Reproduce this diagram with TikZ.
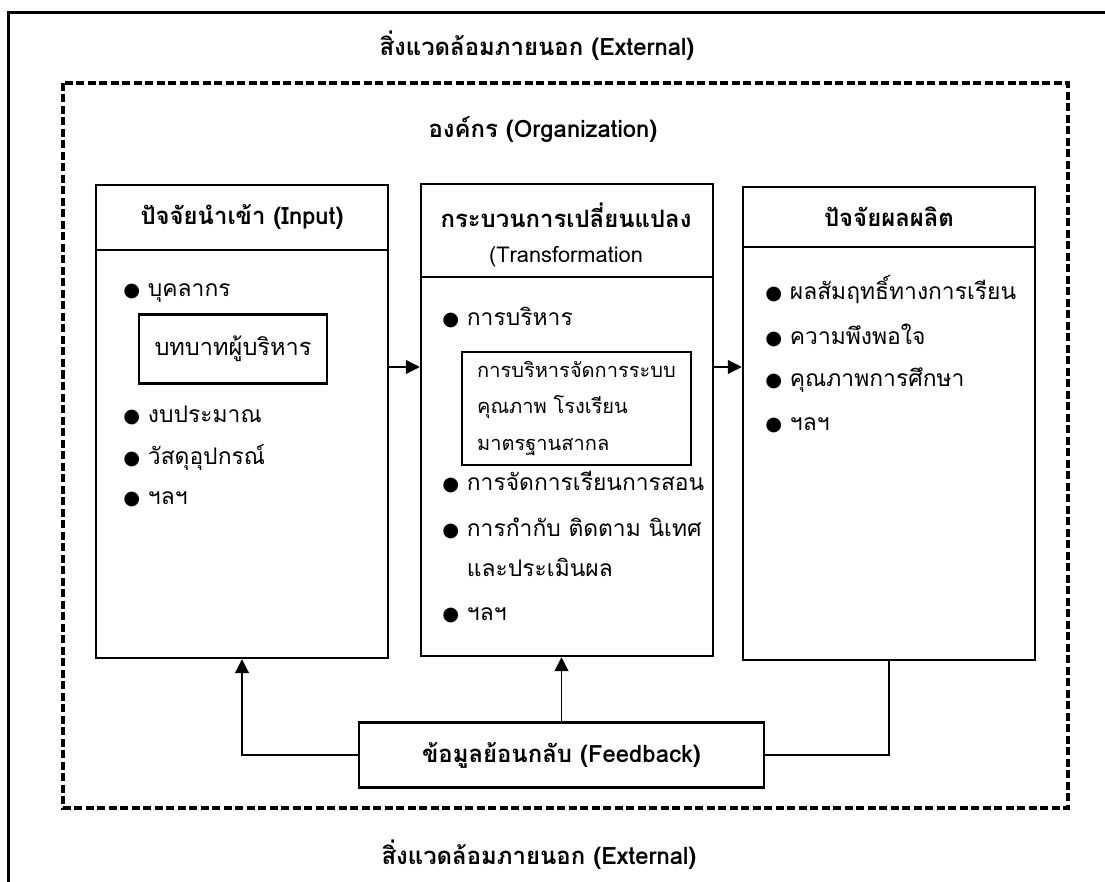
\documentclass[tikz,border=0pt]{standalone}
\usepackage{fontspec}
\setmainfont[Script=Thai]{Loma}
\newfontfamily\symfont{DejaVu Sans}
\usetikzlibrary{arrows.meta,fit}

\newcommand{\dotmark}{{\symfont\fontsize{11}{11}\selectfont ●}}

\tikzset{
  box/.style={draw, line width=0.5mm, inner sep=0pt},
  title/.style={font=\fontsize{13.6}{16}\selectfont\bfseries},
  head/.style={font=\fontsize{13.6}{20}\selectfont\bfseries, align=center},
  item/.style={anchor=west, inner sep=0pt, align=left,
    font=\fontsize{13}{22.7}\selectfont},
  sub/.style={draw, line width=0.5mm, inner sep=0pt},
  link/.style={line width=0.25mm},
}

\begin{document}
\begin{tikzpicture}[x=0.2mm,y=-0.2mm,>={Triangle[length=2.8mm,width=2.8mm]}]
  \useasboundingbox (0,0) rectangle (1105,882);
  % environment and organization frames
  \draw[line width=0.6mm] (8,882) -- (8,13) -- (1105,13);
  \draw[line width=0.65mm, dash pattern=on 1.6mm off 0.7mm] (63,83) rectangle (1068,808);
  \node[title] (exttop) at (537,46) {สิ่งแวดล้อมภายนอก (External)};
  \node[title] (org) at (543,130) {องค์กร (Organization)};
  \node[title] (extbot) at (539,855) {สิ่งแวดล้อมภายนอก (External)};
  % input
  \node[box, fit={(96,185) (388,658)}] (input) {};
  \draw[line width=0.5mm] (96,250) -- (388,250);
  \node[head] (inhead) at (242,217) {ปัจจัยนำเข้า (Input)};
  \node[item] (in1) at (123,293) {\dotmark\ บุคลากร};
  \node[sub, minimum width=37.6mm, minimum height=13.8mm, font=\fontsize{13.4}{16}\selectfont] (inrole) at (233,349) {บทบาทผู้บริหาร};
  \node[item] (in2) at (123,415) {\dotmark\ งบประมาณ};
  \node[item] (in3) at (123,457) {\dotmark\ วัสดุอุปกรณ์};
  \node[item] (in4) at (123,499) {\dotmark\ ฯลฯ};
  % transformation
  \node[box, fit={(421,184) (713,656)}] (trans) {};
  \draw[line width=0.5mm] (421,277) -- (713,277);
  \node[head] (trhead) at (566,235) {กระบวนการเปลี่ยนแปลง\\\normalfont\fontsize{12.4}{20}\selectfont(Transformation};
  \node[item] (tr1) at (442,318) {\dotmark\ การบริหาร};
  \node[sub, minimum width=45.8mm, minimum height=22.6mm, align=left,
    font=\fontsize{11.4}{21}\selectfont] (trsys) at (576.5,408.5)
    {การบริหารจัดการระบบ\\คุณภาพ โรงเรียน\\มาตรฐานสากล};
  \node[item] (tr2) at (442,482) {\dotmark\ การจัดการเรียนการสอน};
  \node[item] (tr3) at (442,548) {\dotmark\ การกำกับ ติดตาม นิเทศ\\\phantom{\dotmark\ }และประเมินผล};
  \node[item] (tr4) at (442,615) {\dotmark\ ฯลฯ};
  % output
  \node[box, fit={(743,187) (1035,660)}] (output) {};
  \draw[line width=0.5mm] (743,247) -- (1035,247);
  \node[head] (outhead) at (889,217) {ปัจจัยผลผลิต};
  \node[item] (out1) at (765,290) {\dotmark\ ผลสัมฤทธิ์ทางการเรียน};
  \node[item] (out2) at (765,335) {\dotmark\ ความพึงพอใจ};
  \node[item] (out3) at (765,380) {\dotmark\ คุณภาพการศึกษา};
  \node[item] (out4) at (765,425) {\dotmark\ ฯลฯ};
  % flow
  \coordinate (flow) at (0,367);
  \draw[link,->] (input.east |- flow) -- (trans.west |- flow);
  \draw[link,->] (trans.east |- flow) -- (output.west |- flow);
  % feedback
  \node[box, minimum width=81mm, minimum height=13mm, title] (fb) at (561.5,755) {ข้อมูลย้อนกลับ (Feedback)};
  \draw[link,->] (fb.west) -| (input.south);
  \draw[link,->] (fb.north) -- (fb.north |- trans.south);
  \draw[link] (fb.east) -| (output.south);
\end{tikzpicture}
\end{document}
